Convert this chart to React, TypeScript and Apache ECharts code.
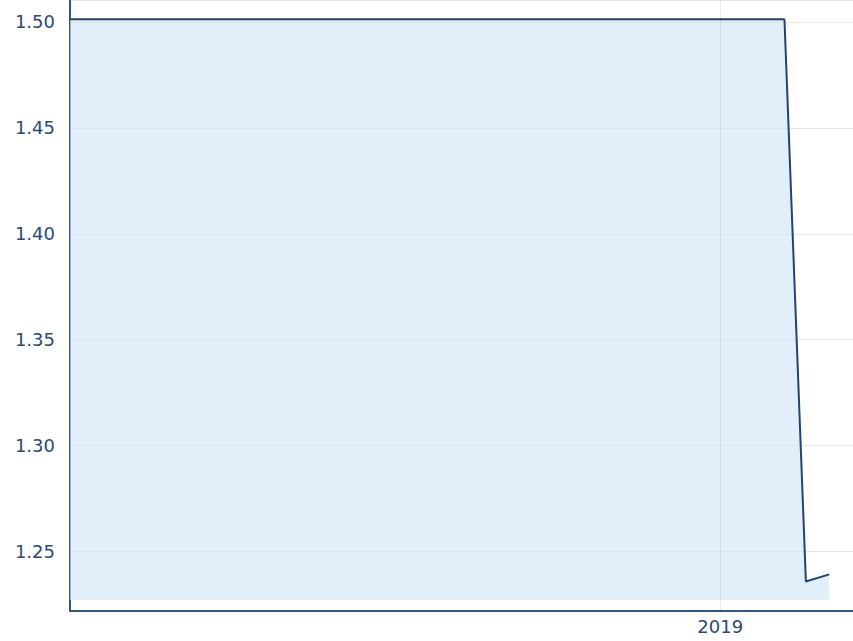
import React, { useEffect, useRef } from "react";
import * as echarts from "echarts";

// Data
const dates: string[] = ["2018-02-01", "2019-02-03", "2019-02-14", "2019-02-26"];
const values: number[] = [1.5012, 1.5012, 1.2359, 1.2393];
const yearMark: string = "2019-01-01";
const xMin: string = "2018-02-01";
const xMax: string = "2019-03-10T05:00:00";
const yMin = 1.222;
const yMax = 1.5103;
const fillBase = 1.2272;

export default function App() {
  const ref = useRef<HTMLDivElement>(null);
  useEffect(() => {
    if (!ref.current) return;
    const chart = echarts.init(ref.current, undefined, { renderer: "svg" });
    const navy = "#2b4a74";
    chart.setOption({
      animation: false,
      backgroundColor: "#ffffff",
      grid: { left: 70, right: 0, top: -2, bottom: 30, containLabel: false },
      xAxis: {
        type: "time",
        min: xMin,
        max: xMax,
        axisLine: { show: true, lineStyle: { color: "#34557f", width: 2 } },
        axisTick: { show: false },
        splitLine: { show: false },
        axisLabel: {
          color: navy,
          fontFamily: "DejaVu Sans",
          fontSize: 18,
          margin: 6,
          hideOverlap: false,
          formatter: (val: number) => {
            const d = new Date(val);
            return d.getMonth() === 0 && d.getDate() === 1 ? String(d.getFullYear()) : "";
          },
        },
      },
      yAxis: {
        type: "value",
        min: yMin,
        max: yMax,
        splitNumber: 5,
        axisLine: { show: true, lineStyle: { color: "#34557f", width: 2 } },
        axisTick: { show: false },
        splitLine: { show: true, lineStyle: { color: "#e6e6e6", width: 1 } },
        axisLabel: {
          color: navy,
          fontFamily: "DejaVu Sans",
          fontSize: 18,
          margin: 15,
          showMinLabel: false,
          showMaxLabel: false,
          formatter: (v: number) => v.toFixed(2),
        },
      },
      series: [
        {
          type: "line",
          data: dates.map((d, i) => [d, values[i]]),
          showSymbol: false,
          symbol: "none",
          lineStyle: { color: "#24436e", width: 2 },
          areaStyle: { color: "rgba(212,230,246,0.68)", opacity: 1, origin: fillBase },
          markLine: {
            silent: true,
            symbol: "none",
            label: { show: false },
            lineStyle: { color: "rgba(0,0,0,0.08)", type: "solid", width: 1 },
            data: [{ xAxis: yearMark }],
          },
        },
      ],
    });
    return () => chart.dispose();
  }, []);
  return (
    <div
      ref={ref}
      style={{ position: "fixed", left: 0, top: 0, width: 853, height: 641 }}
    />
  );
}
